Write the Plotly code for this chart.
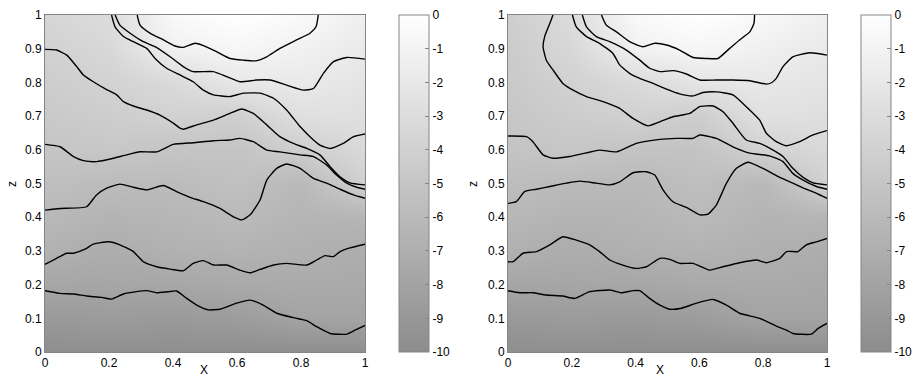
import plotly.graph_objects as go

# ---------------- data ----------------
grid_x = [0.0, 0.2, 0.4, 0.6, 0.8, 1.0]
grid_z = [0.0, 0.1, 0.2, 0.3, 0.4, 0.5, 0.6, 0.7, 0.8, 0.9, 1.0]

bg_left = [
    [-9.8, -9.8, -9.8, -9.8, -9.8, -9.8],
    [-8.8, -8.65, -8.78, -8.56, -7.94, -7.91],
    [-7.74, -7.75, -7.66, -7.44, -7.34, -7.50],
    [-6.73, -7.16, -6.77, -6.63, -6.84, -7.08],
    [-6.12, -6.55, -6.35, -5.98, -6.48, -6.40],
    [-5.59, -5.87, -5.86, -5.44, -6.13, -3.98],
    [-5.08, -4.85, -5.11, -5.14, -4.26, -3.30],
    [-4.70, -4.35, -3.93, -4.23, -2.73, -2.75],
    [-4.35, -3.88, -3.21, -2.0, -1.87, -2.31],
    [-4.0, -3.44, -1.25, -0.75, -1.2, -1.87],
    [-3.6, -3.0, -0.5, 0.0, -0.5, -1.4],
]
bg_right = [
    [-9.8, -9.8, -9.8, -9.8, -9.8, -9.8],
    [-8.81, -8.67, -8.79, -8.56, -7.94, -7.95],
    [-7.78, -7.76, -7.69, -7.45, -7.38, -7.55],
    [-6.81, -7.18, -6.82, -6.66, -6.88, -7.15],
    [-6.23, -6.60, -6.47, -6.04, -6.53, -6.45],
    [-5.70, -6.02, -6.11, -5.60, -6.18, -3.98],
    [-5.20, -4.89, -5.22, -5.18, -3.93, -3.36],
    [-4.90, -4.42, -4.00, -4.35, -2.64, -2.80],
    [-4.70, -3.94, -3.17, -2.20, -2.00, -2.36],
    [-4.50, -3.46, -1.20, -0.78, -1.30, -1.93],
    [-4.30, -3.00, -0.50, 0.00, -0.60, -1.40],
]

# left panel contour lines (levels -1 ... -8)
L_A_x = [0.288, 0.297, 0.328, 0.370, 0.406, 0.432, 0.469, 0.495, 0.536, 0.578, 0.620, 0.659, 0.693, 0.734, 0.786, 0.828, 0.847, 0.854]
L_A_z = [1.0, 0.970, 0.946, 0.926, 0.908, 0.904, 0.916, 0.909, 0.891, 0.871, 0.866, 0.864, 0.876, 0.901, 0.926, 0.946, 0.965, 1.0]
L_B_x = [0.219, 0.234, 0.266, 0.307, 0.344, 0.391, 0.432, 0.463, 0.526, 0.568, 0.609, 0.661, 0.703, 0.755, 0.807, 0.839, 0.870, 0.901, 0.943, 1.0]
L_B_z = [1.0, 0.970, 0.946, 0.921, 0.906, 0.876, 0.847, 0.832, 0.832, 0.817, 0.802, 0.807, 0.807, 0.792, 0.777, 0.782, 0.827, 0.861, 0.874, 0.869]
L_C_x = [0.208, 0.219, 0.245, 0.276, 0.318, 0.344, 0.380, 0.422, 0.463, 0.495, 0.526, 0.578, 0.620, 0.672, 0.714, 0.755, 0.797, 0.828, 0.859, 0.891, 0.932, 0.964, 1.0]
L_C_z = [1.0, 0.965, 0.936, 0.921, 0.901, 0.871, 0.842, 0.822, 0.802, 0.777, 0.763, 0.758, 0.768, 0.768, 0.753, 0.718, 0.669, 0.639, 0.614, 0.604, 0.619, 0.639, 0.647]
L_D_x = [0, 0.036, 0.068, 0.099, 0.120, 0.151, 0.190, 0.224, 0.245, 0.276, 0.318, 0.359, 0.401, 0.422, 0.432, 0.474, 0.526, 0.578, 0.615, 0.651, 0.693, 0.734, 0.776, 0.818, 0.859, 0.891, 0.922, 0.953, 1.0]
L_D_z = [0.898, 0.896, 0.881, 0.847, 0.822, 0.802, 0.780, 0.763, 0.743, 0.730, 0.718, 0.703, 0.679, 0.664, 0.661, 0.674, 0.688, 0.708, 0.721, 0.708, 0.674, 0.639, 0.619, 0.604, 0.585, 0.550, 0.520, 0.502, 0.496]
L_E_x = [0, 0.047, 0.089, 0.120, 0.161, 0.214, 0.255, 0.297, 0.349, 0.401, 0.464, 0.526, 0.578, 0.609, 0.651, 0.693, 0.734, 0.797, 0.839, 0.880, 0.911, 0.943, 0.974, 1.0]
L_E_z = [0.616, 0.609, 0.580, 0.568, 0.565, 0.575, 0.585, 0.594, 0.594, 0.616, 0.621, 0.627, 0.629, 0.634, 0.624, 0.599, 0.594, 0.585, 0.580, 0.555, 0.525, 0.501, 0.489, 0.483]
L_F_x = [0, 0.047, 0.130, 0.161, 0.193, 0.234, 0.276, 0.318, 0.370, 0.411, 0.453, 0.495, 0.547, 0.589, 0.615, 0.641, 0.672, 0.693, 0.724, 0.755, 0.797, 0.839, 0.880, 0.922, 0.964, 1.0]
L_F_z = [0.421, 0.426, 0.431, 0.466, 0.486, 0.498, 0.489, 0.481, 0.494, 0.476, 0.459, 0.446, 0.426, 0.401, 0.392, 0.407, 0.451, 0.510, 0.545, 0.558, 0.545, 0.515, 0.501, 0.483, 0.466, 0.456]
L_G_x = [0, 0.036, 0.068, 0.089, 0.125, 0.151, 0.198, 0.234, 0.276, 0.307, 0.349, 0.391, 0.432, 0.463, 0.495, 0.526, 0.568, 0.609, 0.641, 0.672, 0.714, 0.755, 0.818, 0.849, 0.875, 0.901, 0.922, 0.953, 1.0]
L_G_z = [0.260, 0.278, 0.293, 0.293, 0.305, 0.320, 0.327, 0.318, 0.298, 0.268, 0.253, 0.246, 0.241, 0.263, 0.271, 0.258, 0.258, 0.243, 0.235, 0.245, 0.258, 0.263, 0.258, 0.273, 0.286, 0.283, 0.298, 0.309, 0.320]
L_H_x = [0, 0.047, 0.089, 0.130, 0.177, 0.208, 0.245, 0.286, 0.318, 0.349, 0.385, 0.411, 0.443, 0.474, 0.510, 0.547, 0.599, 0.641, 0.682, 0.724, 0.776, 0.818, 0.849, 0.891, 0.943, 0.969, 1.0]
L_H_z = [0.182, 0.174, 0.172, 0.166, 0.162, 0.157, 0.172, 0.179, 0.182, 0.176, 0.179, 0.181, 0.159, 0.139, 0.125, 0.127, 0.145, 0.154, 0.139, 0.115, 0.102, 0.093, 0.075, 0.055, 0.053, 0.065, 0.079]

# right panel contour lines
R_A_x = [0.293, 0.308, 0.340, 0.381, 0.423, 0.460, 0.497, 0.538, 0.580, 0.622, 0.658, 0.695, 0.726, 0.758, 0.771, 0.773]
R_A_z = [1.0, 0.970, 0.950, 0.921, 0.906, 0.916, 0.911, 0.896, 0.874, 0.871, 0.871, 0.901, 0.926, 0.950, 0.975, 1.0]
R_B_x = [0.233, 0.246, 0.277, 0.319, 0.371, 0.413, 0.444, 0.476, 0.517, 0.559, 0.601, 0.653, 0.705, 0.758, 0.810, 0.826, 0.841, 0.862, 0.893, 0.946, 1.0]
R_B_z = [1.0, 0.965, 0.936, 0.921, 0.896, 0.866, 0.842, 0.832, 0.835, 0.825, 0.807, 0.807, 0.807, 0.805, 0.795, 0.799, 0.812, 0.847, 0.876, 0.888, 0.881]
R_C_x = [0.202, 0.214, 0.246, 0.287, 0.329, 0.350, 0.381, 0.413, 0.455, 0.497, 0.538, 0.580, 0.611, 0.653, 0.705, 0.747, 0.789, 0.810, 0.841, 0.873, 0.914, 0.956, 1.0]
R_C_z = [1.0, 0.965, 0.936, 0.916, 0.886, 0.852, 0.827, 0.812, 0.797, 0.780, 0.766, 0.760, 0.770, 0.772, 0.763, 0.728, 0.688, 0.649, 0.624, 0.612, 0.624, 0.644, 0.657]
R_D_x = [0.141, 0.131, 0.115, 0.110, 0.120, 0.141, 0.172, 0.204, 0.246, 0.298, 0.350, 0.392, 0.439, 0.476, 0.517, 0.570, 0.601, 0.643, 0.674, 0.705, 0.747, 0.789, 0.831, 0.862, 0.893, 0.925, 0.956, 1.0]
R_D_z = [1.0, 0.975, 0.936, 0.906, 0.866, 0.837, 0.797, 0.777, 0.758, 0.743, 0.723, 0.693, 0.671, 0.683, 0.698, 0.708, 0.728, 0.730, 0.713, 0.679, 0.629, 0.619, 0.599, 0.580, 0.545, 0.518, 0.502, 0.496]
R_E_x = [0, 0.058, 0.078, 0.110, 0.141, 0.193, 0.246, 0.287, 0.340, 0.402, 0.476, 0.528, 0.580, 0.601, 0.653, 0.705, 0.758, 0.820, 0.862, 0.893, 0.925, 0.967, 1.0]
R_E_z = [0.641, 0.639, 0.624, 0.585, 0.575, 0.580, 0.591, 0.599, 0.594, 0.619, 0.631, 0.634, 0.634, 0.644, 0.634, 0.609, 0.590, 0.582, 0.565, 0.530, 0.510, 0.491, 0.483]
R_F_x = [0, 0.026, 0.052, 0.089, 0.131, 0.183, 0.225, 0.277, 0.319, 0.350, 0.392, 0.434, 0.460, 0.486, 0.517, 0.559, 0.601, 0.627, 0.653, 0.685, 0.716, 0.752, 0.799, 0.852, 0.893, 0.935, 0.967, 1.0]
R_F_z = [0.441, 0.446, 0.476, 0.483, 0.491, 0.501, 0.507, 0.501, 0.496, 0.505, 0.532, 0.535, 0.525, 0.481, 0.446, 0.429, 0.407, 0.409, 0.436, 0.501, 0.545, 0.563, 0.545, 0.518, 0.501, 0.483, 0.471, 0.456]
R_G_x = [0, 0.016, 0.047, 0.089, 0.131, 0.172, 0.214, 0.256, 0.287, 0.319, 0.360, 0.402, 0.434, 0.476, 0.507, 0.538, 0.580, 0.632, 0.674, 0.726, 0.779, 0.810, 0.852, 0.873, 0.909, 0.935, 0.967, 1.0]
R_G_z = [0.268, 0.268, 0.293, 0.298, 0.318, 0.342, 0.332, 0.318, 0.298, 0.273, 0.258, 0.248, 0.253, 0.278, 0.275, 0.263, 0.263, 0.243, 0.253, 0.265, 0.273, 0.265, 0.278, 0.298, 0.298, 0.318, 0.327, 0.337]
R_H_x = [0, 0.037, 0.078, 0.120, 0.172, 0.209, 0.256, 0.319, 0.355, 0.392, 0.413, 0.444, 0.476, 0.507, 0.544, 0.591, 0.643, 0.685, 0.726, 0.789, 0.841, 0.873, 0.893, 0.951, 0.972, 1.0]
R_H_z = [0.182, 0.176, 0.176, 0.169, 0.166, 0.159, 0.179, 0.184, 0.176, 0.182, 0.182, 0.159, 0.139, 0.127, 0.130, 0.145, 0.156, 0.139, 0.115, 0.100, 0.077, 0.065, 0.055, 0.053, 0.070, 0.085]

cbar_vals = [0, -1, -2, -3, -4, -5, -6, -7, -8, -9, -10]
cbar_text = ["0", "-1", "-2", "-3", "-4", "-5", "-6", "-7", "-8", "-9", "-10"]
x_ticks = [0, 0.2, 0.4, 0.6, 0.8, 1.0]
x_ticktext = ["0", "0.2", "0.4", "0.6", "0.8", "1"]
z_ticks = [0, 0.1, 0.2, 0.3, 0.4, 0.5, 0.6, 0.7, 0.8, 0.9, 1.0]
z_ticktext = ["0", "0.1", "0.2", "0.3", "0.4", "0.5", "0.6", "0.7", "0.8", "0.9", "1"]

# ---------------- figure ----------------
W, H = 914, 379
FONT = "Liberation Sans, Arial, sans-serif"
FRAME = "#858585"
GRAYSCALE = [[0, "rgb(140,140,140)"], [1, "rgb(255,255,255)"]]

plot_top, plot_bot = 15, 352
panels = [
    dict(xl=45, xr=365, cb=399, bg=bg_left, lines=[(L_A_x, L_A_z), (L_B_x, L_B_z), (L_C_x, L_C_z), (L_D_x, L_D_z),
                                                   (L_E_x, L_E_z), (L_F_x, L_F_z), (L_G_x, L_G_z), (L_H_x, L_H_z)],
         xlab=(204, 370), zlab=(12, 184)),
    dict(xl=508, xr=827, cb=861, bg=bg_right, lines=[(R_A_x, R_A_z), (R_B_x, R_B_z), (R_C_x, R_C_z), (R_D_x, R_D_z),
                                                     (R_E_x, R_E_z), (R_F_x, R_F_z), (R_G_x, R_G_z), (R_H_x, R_H_z)],
         xlab=(660, 370), zlab=(473, 184)),
]

fig = go.Figure()
annotations = []
layout_axes = {}
for i, p in enumerate(panels):
    suffix = "" if i == 0 else str(i + 1)
    xa, ya = "x" + suffix, "y" + suffix
    fig.add_trace(go.Heatmap(
        x=grid_x, y=grid_z, z=p["bg"], xaxis=xa, yaxis=ya,
        zmin=-10, zmax=0, colorscale=GRAYSCALE, zsmooth="best", hoverinfo="skip",
        colorbar=dict(
            x=p["cb"] / W, xanchor="left", xref="paper", xpad=0,
            y=1 - plot_bot / H, yanchor="bottom", ypad=0,
            len=(plot_bot - plot_top) / H, lenmode="fraction",
            thickness=30, thicknessmode="pixels",
            outlinecolor=FRAME, outlinewidth=1,
            ticks="inside", ticklen=4, tickcolor=FRAME, tickwidth=1,
            tickvals=cbar_vals, ticktext=cbar_text,
            tickfont=dict(family=FONT, size=12, color="black"),
        ),
    ))
    for lx, lz in p["lines"]:
        fig.add_trace(go.Scatter(
            x=lx, y=lz, xaxis=xa, yaxis=ya, mode="lines",
            line=dict(color="black", width=1.4, shape="spline", smoothing=0.5),
            showlegend=False, hoverinfo="skip",
        ))
    layout_axes["xaxis" + suffix] = dict(
        domain=[p["xl"] / W, p["xr"] / W], range=[0, 1], anchor=ya,
        tickvals=x_ticks, ticktext=x_ticktext, ticks="",
        showgrid=False, zeroline=False, showline=True, mirror=True,
        linecolor=FRAME, linewidth=1,
        tickfont=dict(family=FONT, size=12, color="black"),
    )
    layout_axes["yaxis" + suffix] = dict(
        domain=[1 - plot_bot / H, 1 - plot_top / H], range=[0, 1], anchor=xa,
        tickvals=z_ticks, ticktext=z_ticktext, ticks="",
        showgrid=False, zeroline=False, showline=True, mirror=True,
        linecolor=FRAME, linewidth=1,
        tickfont=dict(family=FONT, size=12, color="black"),
    )
    annotations.append(dict(text="X", x=p["xlab"][0] / W, y=1 - p["xlab"][1] / H, xref="paper", yref="paper",
                            showarrow=False, font=dict(family=FONT, size=12, color="black"),
                            xanchor="center", yanchor="middle"))
    annotations.append(dict(text="z", x=p["zlab"][0] / W, y=1 - p["zlab"][1] / H, xref="paper", yref="paper",
                            showarrow=False, textangle=-90, font=dict(family=FONT, size=12, color="black"),
                            xanchor="center", yanchor="middle"))

fig.update_layout(
    width=W, height=H,
    margin=dict(l=0, r=0, t=0, b=0, autoexpand=False),
    paper_bgcolor="white", plot_bgcolor="white",
    showlegend=False,
    annotations=annotations,
    **layout_axes,
)

fig.write_html(
    "out.html",
    config={"displayModeBar": False, "staticPlot": True},
    post_script="document.body.style.margin='0';document.body.style.overflow='hidden';",
)
